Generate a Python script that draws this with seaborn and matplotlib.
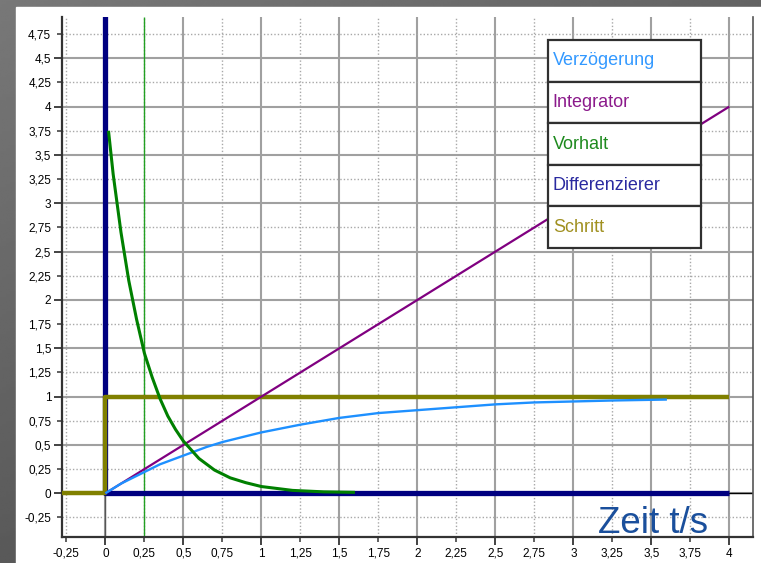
import numpy as np
import matplotlib
matplotlib.use("Agg")
from matplotlib import pyplot as plt
from matplotlib.ticker import MultipleLocator, FuncFormatter
import seaborn as sns

# series (time in s)
verz_t = [0, 0.1, 0.2, 0.25, 0.35, 0.5, 0.65, 0.75, 0.9, 1.0, 1.25, 1.5, 1.75, 2.0, 2.25, 2.5, 2.75, 3.0, 3.25, 3.6]
verz_y = [0, 0.10, 0.18, 0.22, 0.30, 0.39, 0.48, 0.53, 0.59, 0.63, 0.71, 0.78, 0.83, 0.86, 0.89, 0.92, 0.94, 0.95, 0.96, 0.97]

integ_t = [0, 4]
integ_y = [0, 4]

vorh_t = [0.02, 0.05, 0.1, 0.15, 0.2, 0.25, 0.3, 0.35, 0.4, 0.45, 0.5, 0.6, 0.7, 0.8, 0.9, 1.0, 1.2, 1.4, 1.6]
vorh_y = [3.75, 3.3, 2.7, 2.2, 1.8, 1.45, 1.2, 0.98, 0.8, 0.66, 0.54, 0.36, 0.24, 0.16, 0.11, 0.07, 0.03, 0.015, 0.01]

diff_t = [0, 0, 4]
diff_y = [5, 0, 0]

step_t = [-0.3, 0, 0, 4]
step_y = [0, 0, 1, 1]

tau = 0.25

names = ["Verzögerung", "Integrator", "Vorhalt", "Differenzierer", "Schritt"]
line_colors = ["#1e90ff", "#800080", "#008000", "#000080", "#808000"]
text_colors = ["#3399ff", "#8b1a8b", "#1e8a1e", "#2a2aa0", "#a09020"]

sns.set_style("white")
plt.rcParams['font.family'] = ['Liberation Sans', 'DejaVu Sans']

fig = plt.figure(figsize=(7.61, 5.63), dpi=100)

# grey frame with a soft gradient, white panel on it
bg = fig.add_axes([0, 0, 1, 1], zorder=-10)
gy, gx = np.mgrid[0:1:200j, 0:1:200j]
grad = 0.47 - 0.12 * gy - 0.08 * gx
bg.imshow(grad, cmap="gray", vmin=0, vmax=1, aspect="auto", extent=[0, 1, 0, 1])
bg.add_patch(plt.Rectangle((16 / 761, 0), 1, (563 - 7) / 563, color="white", transform=bg.transAxes))
bg.set_axis_off()

ax = fig.add_axes([0.0819, 0.0467, 0.9076, 0.9236])
ax.set_facecolor("white")

# axes crosshair and tau marker
ax.axvline(0, color="#555555", lw=1, zorder=2)
ax.axhline(0, color="black", lw=1, zorder=2)
ax.axvline(tau, color="#22a022", lw=1, zorder=2)

sns.lineplot(x=diff_t, y=diff_y, color=line_colors[3], lw=3.8, sort=False, estimator=None, ax=ax, zorder=3)
sns.lineplot(x=step_t, y=step_y, color=line_colors[4], lw=3.2, sort=False, estimator=None, ax=ax, zorder=4)
sns.lineplot(x=integ_t, y=integ_y, color=line_colors[1], lw=1.6, sort=False, estimator=None, ax=ax, zorder=5)
sns.lineplot(x=verz_t, y=verz_y, color=line_colors[0], lw=1.7, sort=False, estimator=None, ax=ax, zorder=5)
sns.lineplot(x=vorh_t, y=vorh_y, color=line_colors[2], lw=2.2, sort=False, estimator=None, ax=ax, zorder=6)
for ln in ax.get_lines():
    ln.set_solid_capstyle("butt")

ax.set_xlim(-0.276, 4.152)
ax.set_ylim(-0.449, 4.93)

fmt = FuncFormatter(lambda v, p: f"{v:g}".replace(".", ","))
for axis in (ax.xaxis, ax.yaxis):
    axis.set_major_locator(MultipleLocator(0.5))
    axis.set_minor_locator(MultipleLocator(0.25))
    axis.set_major_formatter(fmt)
    axis.set_minor_formatter(fmt)

ax.tick_params(which="both", labelsize=8.5, colors="black", direction="out")
ax.tick_params(which="major", length=6, width=1.2, color="#222222", pad=2)
ax.tick_params(which="minor", length=3.5, width=1.2, color="#444444", pad=4.5)
ax.xaxis.set_ticks_position("bottom")
ax.yaxis.set_ticks_position("left")

ax.grid(which="major", color="#a0a0a0", lw=1.5, zorder=0)
ax.grid(which="minor", color="#a8a8a8", lw=1, linestyle=(0, (1, 1.5)), zorder=0)
ax.set_axisbelow(True)

ax.spines["top"].set_visible(False)
for s in ("left", "bottom"):
    ax.spines[s].set_color("#333333")
    ax.spines[s].set_linewidth(1.6)
ax.spines["right"].set_color("#555555")
ax.spines["right"].set_linewidth(1.2)
ax.set_xlabel("")
ax.set_ylabel("")

ax.text(3.51, -0.41, "Zeit t/s", color="#1a4f9c", fontsize=26.5, ha="center", va="baseline", zorder=7)

# legend drawn as a small table
tab = ax.table(cellText=[[n] for n in names], cellLoc="left",
               bbox=[0.7036, 0.5552, 0.2211, 0.4], zorder=10)
tab.auto_set_font_size(False)
for i, col in enumerate(text_colors):
    cell = tab[i, 0]
    cell.set_edgecolor("#303030")
    cell.set_linewidth(1.6)
    cell.set_facecolor("white")
    cell.PAD = 0.03
    cell.get_text().set_color(col)
    cell.get_text().set_fontsize(13)

fig.savefig("out.png", dpi=100)
